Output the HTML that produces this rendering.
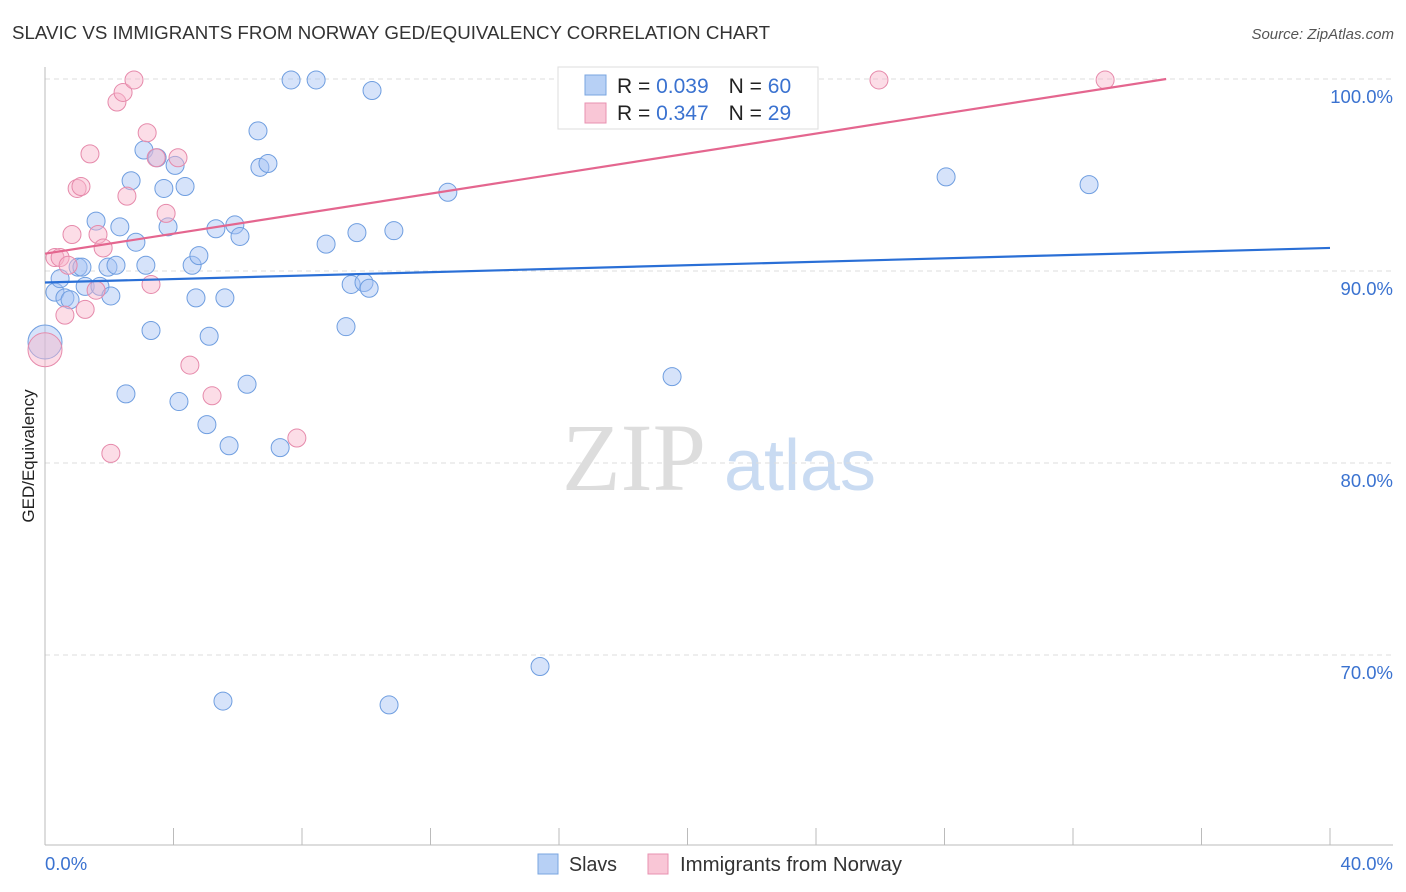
<!DOCTYPE html>
<html><head><meta charset="utf-8"><style>
body{margin:0;background:#fff;font-family:"Liberation Sans",sans-serif;}
#wrap{position:relative;width:1406px;height:892px;overflow:hidden;}
</style></head><body>
<div id="wrap">
<svg id="svg" width="1406" height="892" xmlns="http://www.w3.org/2000/svg">
<text x="12" y="39" font-size="18" fill="#333" textLength="758" lengthAdjust="spacingAndGlyphs">SLAVIC VS IMMIGRANTS FROM NORWAY GED/EQUIVALENCY CORRELATION CHART</text>
<text x="1394" y="39" font-size="15" fill="#555" font-style="italic" text-anchor="end">Source: ZipAtlas.com</text>
<text transform="translate(34,456) rotate(-90)" font-size="17" fill="#222" text-anchor="middle">GED/Equivalency</text>
<g>
<text x="634" y="490" font-size="96" font-family="Liberation Serif,serif" fill="#ddd" text-anchor="middle">ZIP</text>
<text x="800" y="490" font-size="72" fill="#c9dbf2" text-anchor="middle">atlas</text>
</g>
<g id="grid"></g><g id="marks"></g>
<g>
<rect x="558" y="67" width="260" height="62" fill="#fff" stroke="#ddd"/>
<rect x="585" y="75" width="21" height="20" fill="#b7d0f5" stroke="#7aa6e0"/>
<rect x="585" y="103" width="21" height="20" fill="#f9c6d6" stroke="#e891b0"/>
<text x="617" y="93" font-size="21" fill="#222">R = <tspan fill="#3a72d0">0.039</tspan><tspan dx="20">N = </tspan><tspan fill="#3a72d0">60</tspan></text>
<text x="617" y="120" font-size="21" fill="#222">R = <tspan fill="#3a72d0">0.347</tspan><tspan dx="20">N = </tspan><tspan fill="#3a72d0">29</tspan></text>
</g>
<g>
<rect x="538" y="854" width="20" height="20" fill="#b7d0f5" stroke="#7aa6e0"/>
<text x="569" y="871" font-size="20" fill="#333" textLength="48" lengthAdjust="spacingAndGlyphs">Slavs</text>
<rect x="648" y="854" width="20" height="20" fill="#f9c6d6" stroke="#e891b0"/>
<text x="680" y="871" font-size="20" fill="#333" textLength="222" lengthAdjust="spacingAndGlyphs">Immigrants from Norway</text>
</g>
</svg>
</div>
<script>
const yTicks=[100,90,80,70];
const yTickLabels=["100.0%","90.0%","80.0%","70.0%"];
const xTickLabels=["0.0%","40.0%"];
const slavX=[0,0.31,0.47,0.62,0.78,1.03,1.15,1.25,1.59,1.71,1.96,2.05,2.21,2.33,2.68,2.83,3.08,3.14,3.30,2.52,3.49,3.70,3.83,4.05,4.17,4.36,4.58,4.70,4.79,5.04,5.11,5.32,5.54,5.60,5.73,5.91,6.07,6.29,6.63,6.69,6.94,7.32,7.66,8.44,8.75,9.37,9.53,9.71,9.93,10.09,10.18,10.71,10.86,12.54,15.41,17.0,19.52,28.05,32.5];
const slavY=[86.3,88.9,89.6,88.6,88.5,90.2,90.2,89.2,92.6,89.2,90.2,88.7,90.3,92.3,94.7,91.5,96.3,90.3,86.9,83.6,95.9,94.3,92.3,95.5,83.2,94.4,90.3,88.6,90.8,82.0,86.6,92.2,67.6,88.6,80.9,92.4,91.8,84.1,97.3,95.4,95.6,80.8,99.95,99.95,91.4,87.1,89.3,92.0,89.4,89.1,99.4,67.4,92.1,94.1,69.4,99.95,84.5,94.9,94.5];
const norX=[0,0.31,0.47,0.62,0.72,0.84,1.0,1.12,1.25,1.40,1.59,1.65,1.81,2.05,2.24,2.43,2.55,2.77,3.18,3.30,3.46,3.77,4.14,4.51,5.20,7.84,25.96,33.0];
const norY=[85.9,90.7,90.7,87.7,90.3,91.9,94.3,94.4,88.0,96.1,89.0,91.9,91.2,80.5,98.8,99.3,93.9,99.95,97.2,89.3,95.9,93.0,95.9,85.1,83.5,81.3,99.95,99.95];
const slavTrendX=[0,40], slavTrendY=[89.4,91.2];
const norTrendX=[0,34.9], norTrendY=[90.9,100];

const NS="http://www.w3.org/2000/svg";
const X=v=>45+v*32.125, Y=v=>79+(100-v)*19.2;
const grid=document.getElementById('grid'), marks=document.getElementById('marks');
function mk(tag,attrs,parent){const e=document.createElementNS(NS,tag);for(const k in attrs)e.setAttribute(k,attrs[k]);parent.appendChild(e);return e;}
yTicks.forEach((t,i)=>{
 const l=mk('line',{x1:45,x2:1393,y1:Y(t),y2:Y(t),stroke:'#ddd','stroke-dasharray':'5,4'},grid);
 
 
 const tx=mk('text',{x:1393,y:Y(t)+24,'font-size':18.5,fill:'#3a72d0','text-anchor':'end'},grid);
 tx.textContent=yTickLabels[i];
 
 
});
const ax=mk('line',{x1:45,x2:45,y1:67,y2:845,stroke:'#bbb'},grid);


const bx=mk('line',{x1:45,x2:1393,y1:845,y2:845,stroke:'#bbb'},grid);


for(let i=0;i<=10;i++){const t=mk('line',{x1:X(i*4),x2:X(i*4),y1:828,y2:845,stroke:'#bbb'},grid);
 
 }
[[0,'start',45],[40,'end',1393]].forEach((a,i)=>{const t=mk('text',{x:a[2],y:870,'font-size':18.5,fill:'#3a72d0','text-anchor':a[1]},grid);t.textContent=xTickLabels[i];
 
 });
function pts(xs,ys,fill,stroke,name){xs.forEach((x,i)=>{const r=i===0?17:9;
 const c=mk('circle',{cx:X(x),cy:Y(ys[i]),r:r,fill:fill,stroke:stroke,'stroke-width':1},marks);
 
 });}
pts(slavX,slavY,'rgba(164,194,244,0.45)','#6f9ee0','slavs-point');
pts(norX,norY,'rgba(248,180,202,0.45)','#e68aab','norway-point');
const t1=mk('line',{x1:X(slavTrendX[0]),y1:Y(slavTrendY[0]),x2:X(slavTrendX[1]),y2:Y(slavTrendY[1]),stroke:'#2a6fd6','stroke-width':2.2},marks);


const t2=mk('line',{x1:X(norTrendX[0]),y1:Y(norTrendY[0]),x2:X(norTrendX[1]),y2:Y(norTrendY[1]),stroke:'#e4668f','stroke-width':2.2},marks);


</script>
</body></html>
